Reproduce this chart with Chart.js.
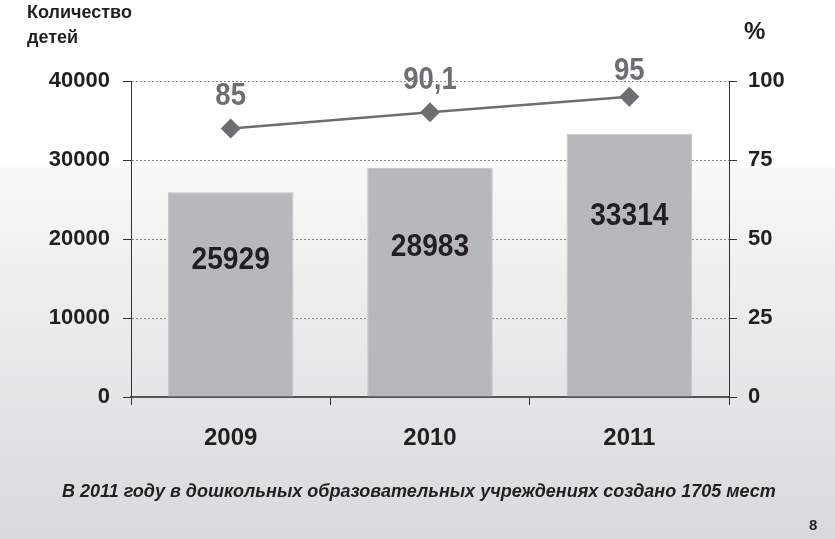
<!DOCTYPE html>
<html>
<head>
<meta charset="utf-8">
<script src="https://cdn.jsdelivr.net/npm/chart.js@4.4.0/dist/chart.umd.min.js"></script>
<style>
    html, body { margin: 0; padding: 0; }
    body {
        width: 835px; height: 539px; overflow: hidden; position: relative;
        background: linear-gradient(to bottom, #ffffff 0%, #ffffff 31%, #f8f8f8 31.2%, #d8d9db 100%);
        font-family: "Liberation Sans", Arial, sans-serif;
        font-weight: bold; color: #231f20;
    }
    #wrap { position: absolute; left: 0; top: 0; width: 835px; height: 539px; }
    .txt { position: absolute; white-space: nowrap; }
    #ytitle { left: 27px; top: 0px; font-size: 18px; line-height: 25px; }
    #pct { left: 744px; top: 17px; font-size: 24px; }
    #note { left: 62px; top: 481px; font-size: 18px; font-style: italic; }
    #page { left: 809px; top: 516px; font-size: 15px; }
</style>
</head>
<body>
<div id="wrap"><canvas id="chart" width="835" height="539"></canvas></div>
<div class="txt" id="ytitle">Количество<br>детей</div>
<div class="txt" id="pct">%</div>
<div class="txt" id="note">В 2011 году в дошкольных образовательных учреждениях создано 1705 мест</div>
<div class="txt" id="page">8</div>
<script>
    "use strict";

    const YEARS = ["2009", "2010", "2011"];
    const CHILDREN = [25929, 28983, 33314];
    const PERCENT = [85, 90.1, 95];
    const PERCENT_LABELS = ["85", "90,1", "95"];
    const LEFT_TICKS = [0, 10000, 20000, 30000, 40000];
    const RIGHT_TICKS = [0, 25, 50, 75, 100];

    const FONT = "'Liberation Sans', Arial, sans-serif";

    // narrow bold text, like the condensed face of the original slide
    function narrowText(ctx, text, x, y, sx) {
        ctx.save();
        ctx.translate(x, y);
        ctx.scale(sx, 1);
        ctx.fillText(text, 0, 0);
        ctx.restore();
    }

    // value labels: bar numbers inside the bars, percents above the points
    const valueLabels = {
        id: "valueLabels",
        afterDatasetsDraw(chart) {
            const ctx = chart.ctx;
            const barShift = [68, 79, 82];
            const ptShift = [32, 32, 26];
            ctx.save();
            ctx.textAlign = "center";
            ctx.textBaseline = "middle";
            ctx.font = "bold 32px " + FONT;

            ctx.fillStyle = "#231f20";
            chart.getDatasetMeta(1).data.forEach((bar, i) => {
                narrowText(ctx, String(CHILDREN[i]), bar.x, bar.y + barShift[i], 0.88);
            });

            ctx.fillStyle = "#6d6e71";
            chart.getDatasetMeta(0).data.forEach((pt, i) => {
                narrowText(ctx, PERCENT_LABELS[i], pt.x, pt.y - ptShift[i], 0.86);
            });
            ctx.restore();
        }
    };

    new Chart(document.getElementById("chart"), {
        data: {
            labels: YEARS,
            datasets: [
                {
                    type: "line",
                    data: PERCENT,
                    yAxisID: "y1",
                    borderColor: "#6d6e71",
                    borderWidth: 2.5,
                    pointStyle: "rectRot",
                    pointRadius: 10,
                    pointBackgroundColor: "#6d6e71",
                    pointBorderColor: "#6d6e71",
                    pointBorderWidth: 0,
                    order: 0
                },
                {
                    type: "bar",
                    data: CHILDREN,
                    yAxisID: "y",
                    backgroundColor: "#b7b8bb",
                    borderColor: "#c4c5c8",
                    borderWidth: 1,
                    categoryPercentage: 1,
                    barPercentage: 0.63,
                    order: 1
                }
            ]
        },
        options: {
            responsive: false,
            animation: false,
            layout: { padding: { top: 81, left: 0, right: 0, bottom: 0 } },
            plugins: { legend: { display: false }, tooltip: { enabled: false } },
            scales: {
                x: {
                    offset: true,
                    grid: {
                        offset: true, drawOnChartArea: false, drawTicks: true,
                        tickLength: 8, color: "#333", tickColor: "#333", lineWidth: 1
                    },
                    border: { display: true, color: "#555", width: 2 },
                    ticks: {
                        color: "#231f20", padding: 19,
                        font: { family: FONT, size: 24, weight: "bold" }
                    },
                    afterFit(scale) { scale.height = 142; }
                },
                y: {
                    position: "left",
                    min: 0, max: 40000,
                    afterBuildTicks(scale) { scale.ticks = LEFT_TICKS.map(v => ({ value: v })); },
                    grid: {
                        color: "#888", lineWidth: 1,
                        tickLength: 8, tickColor: "#333", tickBorderDash: [], tickWidth: 1
                    },
                    border: { display: true, color: "#333", width: 1, dash: [2, 2] },
                    ticks: {
                        color: "#231f20", padding: 13,
                        font: { family: FONT, size: 22, weight: "bold" },
                        callback: v => String(v)
                    },
                    afterFit(scale) { scale.width = 131; }
                },
                y1: {
                    position: "right",
                    min: 0, max: 100,
                    afterBuildTicks(scale) { scale.ticks = RIGHT_TICKS.map(v => ({ value: v })); },
                    grid: {
                        drawOnChartArea: false,
                        tickLength: 8, tickColor: "#333", tickWidth: 1
                    },
                    border: { display: true, color: "#333", width: 1 },
                    ticks: {
                        color: "#231f20", padding: 11,
                        font: { family: FONT, size: 22, weight: "bold" },
                        callback: v => String(v)
                    },
                    afterFit(scale) { scale.width = 106; }
                }
            }
        },
        plugins: [valueLabels]
    });
</script>
</body>
</html>
